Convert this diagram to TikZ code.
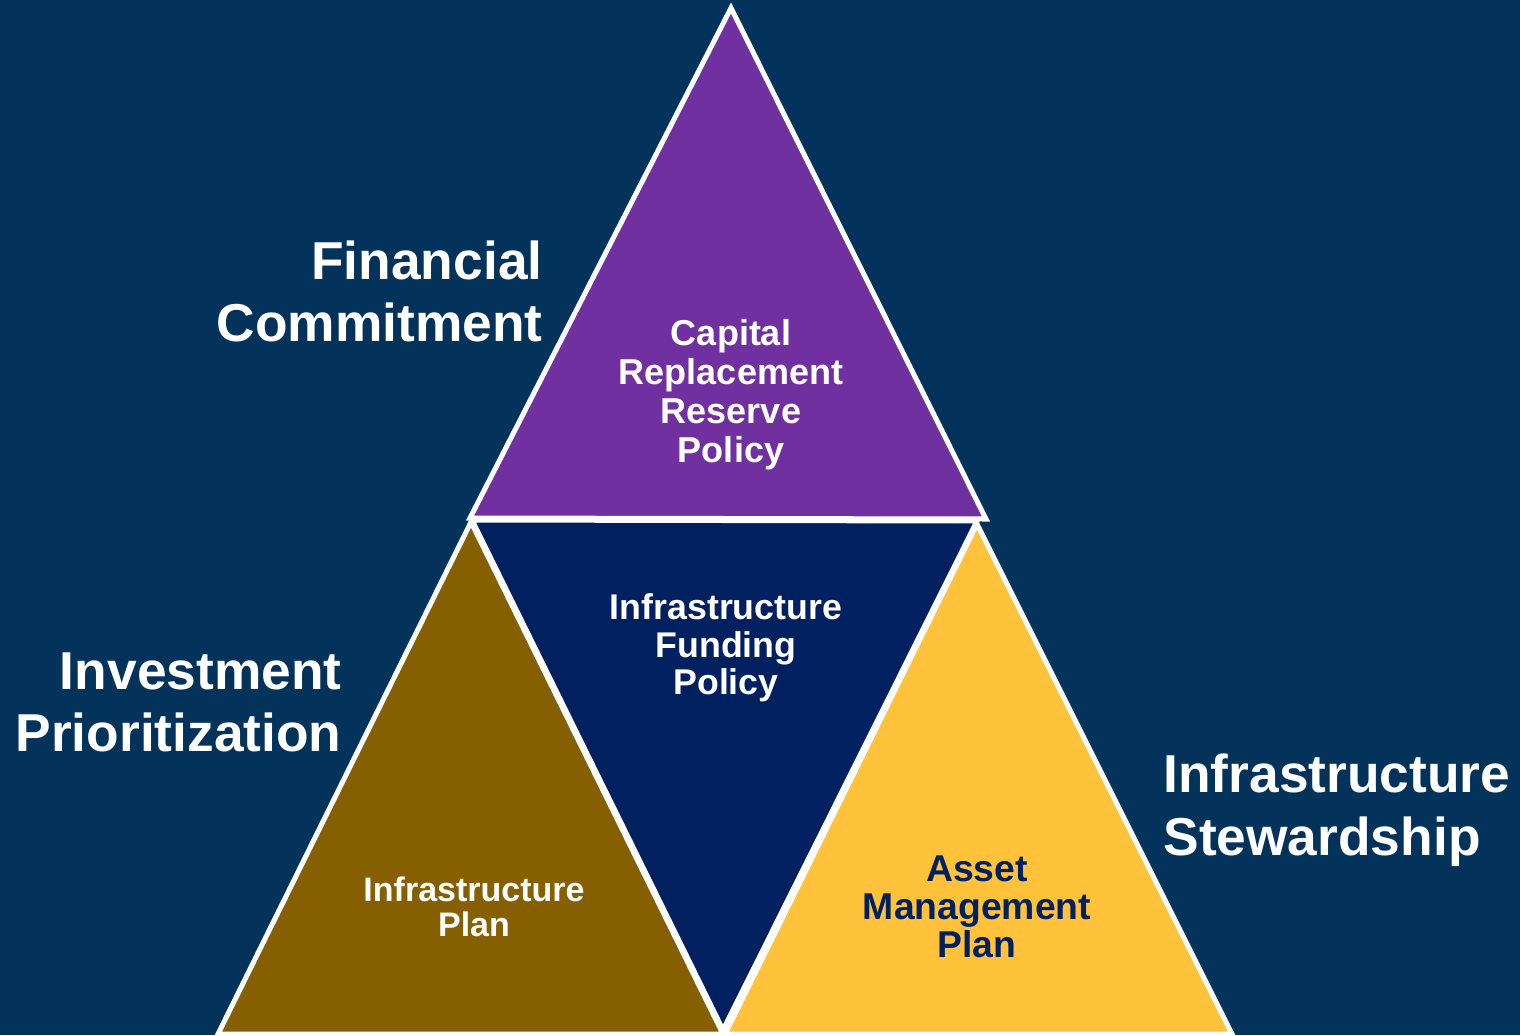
\documentclass[tikz,border=0pt]{standalone}
\usepackage{fontspec}
\setmainfont{Liberation Sans}

\definecolor{bgblue}{RGB}{3,51,90}
\definecolor{capPurple}{RGB}{112,48,160}
\definecolor{fundNavy}{RGB}{0,32,96}
\definecolor{planBrown}{RGB}{134,96,0}
\definecolor{assetGold}{RGB}{255,194,58}

\tikzset{every picture/.style={line width=0.75pt}}
\tikzset{
  tri/.style={draw=white, line width=3.75pt, line join=miter},
  pillar/.style={font=\bfseries\fontsize{40}{46.5}\selectfont, text=white, inner sep=0pt},
  inlabel/.style={font=\bfseries\fontsize{27}{29.3}\selectfont, text=white, inner sep=0pt, align=center}
}

\begin{document}
\begin{tikzpicture}[x=0.75pt,y=0.75pt,yscale=-1,xscale=1]
		%set diagram frame: 1520 x 1035
		\fill [bgblue] (0,0) rectangle (1520,1035);
		\useasboundingbox (0,0) rectangle (1520,1035);
		
		% corner points
		\coordinate (apex) at (731,8);
		\coordinate (midL) at (470,518);
		\coordinate (midR) at (986,519);
		\coordinate (botL) at (218,1034);
		\coordinate (botM) at (723,1034);
		\coordinate (botR) at (1232,1034);
		
		%Shape: Triangle [top] 
		\draw [tri, fill=capPurple] (apex) -- (midR) -- (midL) -- cycle ;
		%Shape: Triangle [middle, upside down] 
		\draw [tri, fill=fundNavy] (472,520) -- (977,521) -- (723,1030) -- cycle ;
		%Shape: Triangle [left] 
		\draw [tri, fill=planBrown] (471,522) -- (botM) -- (botL) -- cycle ;
		%Shape: Triangle [right] 
		\draw [tri, fill=assetGold] (977,524) -- (botR) -- (725,1034) -- cycle ;
		
		% Text Node
		\node [inlabel] (capital) at (731,395) {Capital\\Replacement\\Reserve\\Policy};
		% Text Node
		\node [inlabel, font=\bfseries\fontsize{26.8}{28}\selectfont] (funding) at (726,648) {Infrastructure\\Funding\\Policy};
		% Text Node
		\node [inlabel, font=\bfseries\fontsize{25.5}{26.3}\selectfont] (infplan) at (474,907) {Infrastructure\\Plan};
		% Text Node
		\node [inlabel, text=fundNavy, font=\bfseries\fontsize{28}{28.5}\selectfont] (amp) at (977,907) {Asset\\Management\\Plan};
		
		% Text Node
		\node [pillar, anchor=east, align=right] (financial) at (543,291) {Financial\\Commitment};
		% Text Node
		\node [pillar, anchor=east, align=right] (invest) at (342,702) {Investment\\Prioritization};
		% Text Node
		\node [pillar, anchor=west, align=left, font=\bfseries\fontsize{40}{47.5}\selectfont] (steward) at (1163,810) {Infrastructure\\Stewardship};
		
\end{tikzpicture}
\end{document}
